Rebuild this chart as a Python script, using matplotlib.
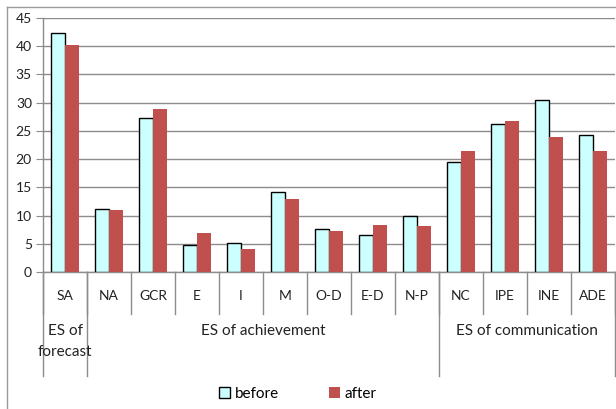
import matplotlib
matplotlib.use("Agg")
import matplotlib.pyplot as plt
from matplotlib.patches import Patch
from matplotlib.lines import Line2D
import numpy as np

plt.rcParams['font.family'] = ['Lato', 'DejaVu Sans']

categories = ["SA", "NA", "GCR", "E", "I", "M", "O-D", "E-D", "N-P", "NC", "IPE", "INE", "ADE"]
before = [42.4, 11.2, 27.2, 4.7, 5.2, 14.2, 7.6, 6.5, 9.9, 19.4, 26.3, 30.4, 24.2]
after = [40.2, 10.9, 28.8, 6.9, 4.0, 12.9, 7.2, 8.3, 8.1, 21.5, 26.8, 24.0, 21.5]
groups = ["ES of\nforecast", "ES of achievement", "ES of communication"]
group_sizes = [1, 8, 4]

W, H = 616, 409
fig = plt.figure(figsize=(W / 100, H / 100), dpi=100)
ax = fig.add_axes([43 / W, 1 - 272 / H, 572 / W, 254 / H])

x = np.arange(len(categories))
bw = 0.31
ax.bar(x - bw / 2, before, bw, color="#CCFFFF", edgecolor="black", linewidth=1.0, zorder=3)
ax.bar(x + bw / 2, after, bw, color="#C0504D", edgecolor="none", zorder=3)

grid_c = "#8C8C8C"
ax.set_xlim(-0.5, len(categories) - 0.5)
ax.set_ylim(0, 45)
ax.set_yticks(range(0, 46, 5))
ax.yaxis.grid(True, color=grid_c, linewidth=1.0, zorder=0)
ax.tick_params(axis="y", length=5, color=grid_c, labelsize=10, pad=3, labelcolor="#222222")
ax.set_xticks([])
for s in ["top", "right"]:
    ax.spines[s].set_visible(False)
for s in ["left", "bottom"]:
    ax.spines[s].set_color(grid_c)
    ax.spines[s].set_linewidth(1.0)

trans = ax.get_xaxis_transform()
# first-level separators and labels
for i in range(len(categories) + 1):
    ax.plot([i - 0.5, i - 0.5], [0, -0.165], transform=trans, color=grid_c,
            linewidth=1.0, clip_on=False)
for i, c in enumerate(categories):
    ax.text(i, -0.094, c, transform=trans, ha="center", va="center",
            fontsize=10, color="#222222")

# second-level group separators and labels
start = 0
bounds = [0]
for g, n in zip(groups, group_sizes):
    end = start + n
    bounds.append(end)
    cx = (start + end - 1) / 2
    ax.text(cx, -0.205, g, transform=trans, ha="center", va="top",
            fontsize=11, color="#222222", linespacing=1.6)
    start = end
for b in bounds:
    ax.plot([b - 0.5, b - 0.5], [0, -0.41], transform=trans, color=grid_c,
            linewidth=1.0, clip_on=False)

# chart frame
fig.add_artist(Line2D([7 / W, 7 / W], [0, 1 - 7 / H], color="#9A9A9A", linewidth=1.0))
fig.add_artist(Line2D([7 / W, 1], [1 - 7 / H, 1 - 7 / H], color="#9A9A9A", linewidth=1.0))

handles = [Patch(facecolor="#CCFFFF", edgecolor="black", linewidth=1.0),
           Patch(facecolor="#C0504D", edgecolor="none")]
fig.legend(handles, ["before", "after"], loc="center", bbox_to_anchor=(298 / W, 1 - 394 / H),
           ncol=2, frameon=False, fontsize=11, handlelength=0.7, handleheight=0.7,
           handletextpad=0.3, columnspacing=3.3)

fig.savefig("out.png", dpi=100)
